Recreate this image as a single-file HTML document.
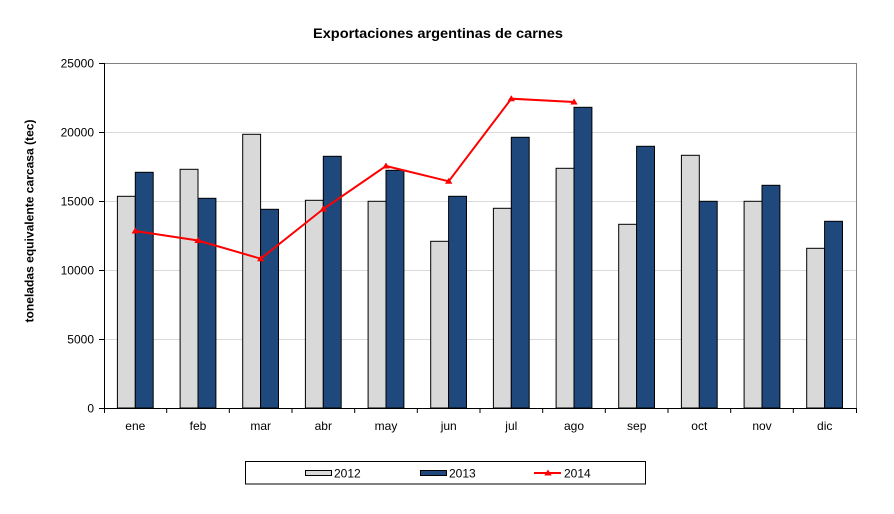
<!DOCTYPE html>
<html><head><meta charset="utf-8"><style>
html,body{margin:0;padding:0;background:#fff;}
svg{display:block;font-family:"Liberation Sans",Arial,sans-serif;}
</style></head><body>
<svg width="894" height="514" viewBox="0 0 894 514" xmlns="http://www.w3.org/2000/svg">
<rect width="894" height="514" fill="#fff"/>
<text x="438" y="38" text-anchor="middle" font-size="14" font-weight="bold" textLength="250" lengthAdjust="spacingAndGlyphs">Exportaciones argentinas de carnes</text>
<!-- gridlines -->
<g stroke="#d9d9d9" stroke-width="1">
<line x1="104" y1="132.5" x2="856" y2="132.5"/>
<line x1="104" y1="201.5" x2="856" y2="201.5"/>
<line x1="104" y1="270.5" x2="856" y2="270.5"/>
<line x1="104" y1="339.5" x2="856" y2="339.5"/>
</g>
<!-- plot border -->
<polyline points="104,63.5 856.5,63.5 856.5,408" fill="none" stroke="#808080" stroke-width="1"/>
<!-- bars -->
<g stroke="#000" stroke-width="1">
<g fill="#d9d9d9">
<rect x="117.4" y="196.3" width="17.9" height="211.7"/>
<rect x="180.1" y="169.3" width="17.9" height="238.7"/>
<rect x="242.7" y="134.3" width="17.9" height="273.7"/>
<rect x="305.4" y="200.3" width="17.9" height="207.7"/>
<rect x="368.1" y="201.3" width="17.9" height="206.7"/>
<rect x="430.7" y="241.3" width="17.9" height="166.7"/>
<rect x="493.4" y="208.3" width="17.9" height="199.7"/>
<rect x="556.1" y="168.3" width="17.9" height="239.7"/>
<rect x="618.7" y="224.3" width="17.9" height="183.7"/>
<rect x="681.4" y="155.3" width="17.9" height="252.7"/>
<rect x="744.1" y="201.3" width="17.9" height="206.7"/>
<rect x="806.7" y="248.3" width="17.9" height="159.7"/>
</g>
<g fill="#1f497d">
<rect x="135.3" y="172.3" width="17.9" height="235.7"/>
<rect x="198.0" y="198.3" width="17.9" height="209.7"/>
<rect x="260.6" y="209.3" width="17.9" height="198.7"/>
<rect x="323.3" y="156.3" width="17.9" height="251.7"/>
<rect x="386.0" y="170.3" width="17.9" height="237.7"/>
<rect x="448.6" y="196.3" width="17.9" height="211.7"/>
<rect x="511.3" y="137.3" width="17.9" height="270.7"/>
<rect x="574.0" y="107.3" width="17.9" height="300.7"/>
<rect x="636.6" y="146.3" width="17.9" height="261.7"/>
<rect x="699.3" y="201.3" width="17.9" height="206.7"/>
<rect x="762.0" y="185.3" width="17.9" height="222.7"/>
<rect x="824.6" y="221.3" width="17.9" height="186.7"/>
</g>
</g>
<!-- 2014 line -->
<polyline points="135.3,231 198,240.5 260.7,258.7 323.3,209 386,166 448.7,181.3 511.3,98.7 574,102" fill="none" stroke="#ff0000" stroke-width="2"/>
<g fill="#ff0000">
<polygon points="135.3,227.5 139,233.5 131.6,233.5"/>
<polygon points="198,237 201.7,243 194.3,243"/>
<polygon points="260.7,255.2 264.4,261.2 257,261.2"/>
<polygon points="323.3,205.5 327,211.5 319.6,211.5"/>
<polygon points="386,162.5 389.7,168.5 382.3,168.5"/>
<polygon points="448.7,177.8 452.4,183.8 445,183.8"/>
<polygon points="511.3,95.2 515,101.2 507.6,101.2"/>
<polygon points="574,98.5 577.7,104.5 570.3,104.5"/>
</g>
<!-- axes -->
<g stroke="#000" stroke-width="1">
<line x1="104.5" y1="63" x2="104.5" y2="408.5"/>
<line x1="104" y1="408.5" x2="857" y2="408.5"/>
<line x1="99" y1="63.5" x2="104" y2="63.5"/>
<line x1="99" y1="132.5" x2="104" y2="132.5"/>
<line x1="99" y1="201.5" x2="104" y2="201.5"/>
<line x1="99" y1="270.5" x2="104" y2="270.5"/>
<line x1="99" y1="339.5" x2="104" y2="339.5"/>
<line x1="99" y1="408.5" x2="104" y2="408.5"/>
<line x1="104.5" y1="408" x2="104.5" y2="413"/>
<line x1="166.7" y1="408" x2="166.7" y2="413"/>
<line x1="229.3" y1="408" x2="229.3" y2="413"/>
<line x1="292" y1="408" x2="292" y2="413"/>
<line x1="354.7" y1="408" x2="354.7" y2="413"/>
<line x1="417.3" y1="408" x2="417.3" y2="413"/>
<line x1="480" y1="408" x2="480" y2="413"/>
<line x1="542.7" y1="408" x2="542.7" y2="413"/>
<line x1="605.3" y1="408" x2="605.3" y2="413"/>
<line x1="668" y1="408" x2="668" y2="413"/>
<line x1="730.7" y1="408" x2="730.7" y2="413"/>
<line x1="793.3" y1="408" x2="793.3" y2="413"/>
<line x1="856.5" y1="408" x2="856.5" y2="413"/>
</g>
<!-- y labels -->
<g font-size="12" text-anchor="end" fill="#000">
<text x="94" y="67.5">25000</text>
<text x="94" y="136.5">20000</text>
<text x="94" y="205.5">15000</text>
<text x="94" y="274.5">10000</text>
<text x="94" y="343.5">5000</text>
<text x="94" y="412.5">0</text>
</g>
<text transform="translate(33.5,221) rotate(-90)" text-anchor="middle" font-size="12" font-weight="bold" textLength="203" lengthAdjust="spacingAndGlyphs">toneladas equivalente carcasa (tec)</text>
<!-- x labels -->
<g font-size="12" text-anchor="middle" fill="#000">
<text x="135.3" y="430">ene</text>
<text x="198" y="430">feb</text>
<text x="260.7" y="430">mar</text>
<text x="323.3" y="430">abr</text>
<text x="386" y="430">may</text>
<text x="448.7" y="430">jun</text>
<text x="511.3" y="430">jul</text>
<text x="574" y="430">ago</text>
<text x="636.7" y="430">sep</text>
<text x="699.3" y="430">oct</text>
<text x="762" y="430">nov</text>
<text x="824.7" y="430">dic</text>
</g>
<!-- legend -->
<rect x="245.5" y="461.5" width="400" height="22.5" fill="#fff" stroke="#000" stroke-width="1"/>
<rect x="305.5" y="470.5" width="26" height="5" fill="#d9d9d9" stroke="#000" stroke-width="1"/>
<text x="334" y="477.5" font-size="12">2012</text>
<rect x="420.5" y="470.5" width="26" height="5" fill="#1f497d" stroke="#000" stroke-width="1"/>
<text x="449" y="477.5" font-size="12">2013</text>
<line x1="534" y1="473" x2="561" y2="473" stroke="#ff0000" stroke-width="2"/>
<polygon points="548,469.5 551.7,475.5 544.3,475.5" fill="#ff0000"/>
<text x="564" y="477.5" font-size="12">2014</text>
</svg>
</body></html>
